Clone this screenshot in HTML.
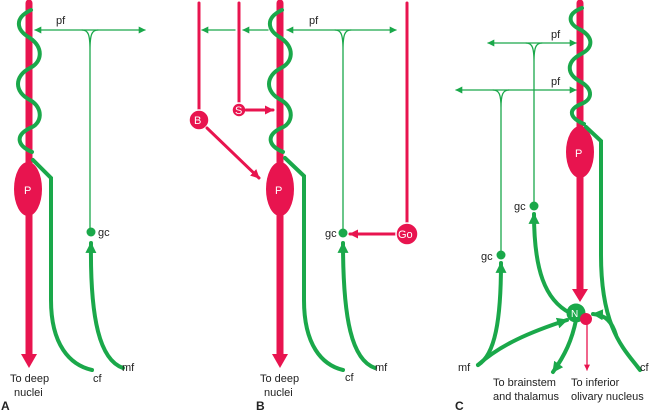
<!DOCTYPE html>
<html><head><meta charset="utf-8"><style>
html,body{margin:0;padding:0;background:#fff}
svg{display:block}
text{font-family:"Liberation Sans",sans-serif;font-size:11px;fill:#222}
</style></head><body>
<svg width="650" height="411" viewBox="0 0 650 411" xmlns="http://www.w3.org/2000/svg">
<defs>
<marker id="ga" viewBox="0 0 10 10" refX="9" refY="5" markerWidth="11" markerHeight="11" markerUnits="userSpaceOnUse" orient="auto"><path d="M0,0L10,5L0,10z" fill="#1aa84a"/></marker>
<marker id="gA" viewBox="0 0 10 10" refX="9" refY="5" markerWidth="7" markerHeight="7" markerUnits="userSpaceOnUse" orient="auto-start-reverse"><path d="M0,0L10,5L0,10z" fill="#1aa84a"/></marker>
<marker id="ra" viewBox="0 0 10 10" refX="9" refY="5" markerWidth="9" markerHeight="9" markerUnits="userSpaceOnUse" orient="auto"><path d="M0,0L10,5L0,10z" fill="#e8144f"/></marker>
<marker id="rs" viewBox="0 0 10 10" refX="9" refY="5" markerWidth="6" markerHeight="6" markerUnits="userSpaceOnUse" orient="auto"><path d="M0,0L10,5L0,10z" fill="#e8144f"/></marker>
</defs>
<g fill="none" stroke-linecap="round">
<!-- Panel A -->
<line x1="29" y1="3" x2="29" y2="355" stroke="#e8144f" stroke-width="7"/>
<path d="M21,354L37,354L29,368z" fill="#e8144f"/>
<ellipse cx="28" cy="189" rx="14" ry="27" fill="#e8144f"/>
<path d="M31,10C14,18 16,30 30,38C44,48 42,62 30,68C14,76 14,92 30,100C44,108 42,124 30,128C14,136 18,146 32,152" stroke="#1aa84a" stroke-width="4"/>
<path d="M33,160L51,178L51,300C51,345 70,365 92,370" stroke="#1aa84a" stroke-width="4"/>
<line x1="35" y1="30" x2="145" y2="30" stroke="#1aa84a" stroke-width="1.3" marker-start="url(#gA)" marker-end="url(#gA)"/>
<path d="M82,30C88,30 90,34 90,50M98,30C92,30 90,34 90,50L90,232" stroke="#1aa84a" stroke-width="1.3"/>
<circle cx="91" cy="232" r="4.5" fill="#1aa84a"/>
<path d="M123,368C100,360 90,320 91,243" stroke="#1aa84a" stroke-width="4" marker-end="url(#ga)"/>
<!-- Panel B -->
<line x1="199" y1="3" x2="199" y2="112" stroke="#e8144f" stroke-width="3"/>
<circle cx="199" cy="120" r="10" fill="#e8144f" stroke="#fff" stroke-width="1.5"/>
<line x1="239" y1="3" x2="239" y2="104" stroke="#e8144f" stroke-width="3"/>
<circle cx="239" cy="110" r="7" fill="#e8144f" stroke="#fff" stroke-width="1.5"/>
<line x1="246" y1="110" x2="273" y2="110" stroke="#e8144f" stroke-width="3" marker-end="url(#ra)"/>
<line x1="207" y1="128" x2="259" y2="178" stroke="#e8144f" stroke-width="3" marker-end="url(#ra)"/>
<line x1="280" y1="3" x2="280" y2="355" stroke="#e8144f" stroke-width="7"/>
<path d="M272,354L288,354L280,368z" fill="#e8144f"/>
<ellipse cx="280" cy="189" rx="14" ry="27" fill="#e8144f"/>
<path d="M282,10C265,18 267,30 281,38C295,48 293,62 281,68C265,76 265,92 281,100C295,108 293,124 281,128C265,136 269,146 283,152" stroke="#1aa84a" stroke-width="4"/>
<path d="M285,158L304,176L304,300C304,345 322,365 343,370" stroke="#1aa84a" stroke-width="4"/>
<line x1="235" y1="30" x2="202" y2="30" stroke="#1aa84a" stroke-width="1.3" marker-end="url(#gA)"/>
<line x1="268" y1="30" x2="243" y2="30" stroke="#1aa84a" stroke-width="1.3" marker-end="url(#gA)"/>
<line x1="287" y1="30" x2="396" y2="30" stroke="#1aa84a" stroke-width="1.3" marker-start="url(#gA)" marker-end="url(#gA)"/>
<path d="M335,30C341,30 343,34 343,50M351,30C345,30 343,34 343,50L343,232" stroke="#1aa84a" stroke-width="1.3"/>
<circle cx="343" cy="233" r="4.5" fill="#1aa84a"/>
<path d="M375,368C352,360 343,320 343,243" stroke="#1aa84a" stroke-width="4" marker-end="url(#ga)"/>
<line x1="407" y1="3" x2="407" y2="225" stroke="#e8144f" stroke-width="3"/>
<line x1="397" y1="234" x2="350" y2="234" stroke="#e8144f" stroke-width="3" marker-end="url(#ra)"/>
<circle cx="407" cy="234" r="11" fill="#e8144f" stroke="#fff" stroke-width="1.5"/>
<!-- Panel C -->
<line x1="580" y1="3" x2="580" y2="290" stroke="#e8144f" stroke-width="7"/>
<path d="M572,289L588,289L580,302z" fill="#e8144f"/>
<ellipse cx="580" cy="152" rx="14" ry="26" fill="#e8144f"/>
<path d="M582,8C566,14 568,24 581,30C594,38 593,48 581,54C566,62 566,74 581,82C594,90 592,100 581,104C567,110 570,118 584,124" stroke="#1aa84a" stroke-width="4"/>
<path d="M586,127L601,141L601,255C601,330 625,350 640,370" stroke="#1aa84a" stroke-width="4"/>
<path d="M616,335C612,322 606,315 593,314" stroke="#1aa84a" stroke-width="4" marker-end="url(#ga)"/>
<line x1="488" y1="43" x2="576" y2="43" stroke="#1aa84a" stroke-width="1.3" marker-start="url(#gA)" marker-end="url(#gA)"/>
<path d="M526,43C532,43 534,47 534,62M542,43C536,43 534,47 534,62L534,205" stroke="#1aa84a" stroke-width="1.3"/>
<circle cx="534" cy="206" r="4.5" fill="#1aa84a"/>
<line x1="456" y1="90" x2="576" y2="90" stroke="#1aa84a" stroke-width="1.3" marker-start="url(#gA)" marker-end="url(#gA)"/>
<path d="M493,90C499,90 501,94 501,108M509,90C503,90 501,94 501,108L501,254" stroke="#1aa84a" stroke-width="1.3"/>
<circle cx="501" cy="255" r="4.5" fill="#1aa84a"/>
<path d="M570,313C545,300 534,270 534,214" stroke="#1aa84a" stroke-width="4" marker-end="url(#ga)"/>
<path d="M478,365C495,355 501,320 501,263" stroke="#1aa84a" stroke-width="4" marker-end="url(#ga)"/>
<path d="M478,365C500,345 530,332 567,320" stroke="#1aa84a" stroke-width="4" marker-end="url(#ga)"/>
<path d="M576,320C572,340 565,355 553,372" stroke="#1aa84a" stroke-width="4" marker-end="url(#ga)"/>
<line x1="587" y1="322" x2="587" y2="370" stroke="#e8144f" stroke-width="1.3" marker-end="url(#rs)"/>
<circle cx="576" cy="313" r="9.5" fill="#1aa84a"/>
<circle cx="586" cy="319" r="6" fill="#e8144f"/>
</g>
<g>
<text x="56" y="24">pf</text>
<text x="98" y="236">gc</text>
<text x="122" y="371">mf</text>
<text x="93" y="382">cf</text>
<text x="10" y="382">To deep</text>
<text x="14" y="396">nuclei</text>
<text x="1" y="410" style="font-weight:bold;font-size:12px">A</text>
<text x="194" y="124" style="fill:#fff">B</text>
<text x="235" y="114" style="fill:#fff">S</text>
<text x="275" y="194" style="fill:#fff">P</text>
<text x="24" y="194" style="fill:#fff">P</text>
<text x="575" y="157" style="fill:#fff">P</text>
<text x="398" y="238" style="fill:#fff">Go</text>
<text x="571" y="317" style="fill:#fff;font-size:10px">N</text>
<text x="309" y="24">pf</text>
<text x="325" y="237">gc</text>
<text x="375" y="371">mf</text>
<text x="345" y="381">cf</text>
<text x="260" y="382">To deep</text>
<text x="264" y="396">nuclei</text>
<text x="256" y="410" style="font-weight:bold;font-size:12px">B</text>
<text x="551" y="38">pf</text>
<text x="551" y="85">pf</text>
<text x="514" y="210">gc</text>
<text x="481" y="260">gc</text>
<text x="458" y="371">mf</text>
<text x="640" y="371">cf</text>
<text x="493" y="386">To brainstem</text>
<text x="493" y="400">and thalamus</text>
<text x="571" y="386">To inferior</text>
<text x="571" y="400">olivary nucleus</text>
<text x="455" y="410" style="font-weight:bold;font-size:12px">C</text>
</g>
</svg>
</body></html>
